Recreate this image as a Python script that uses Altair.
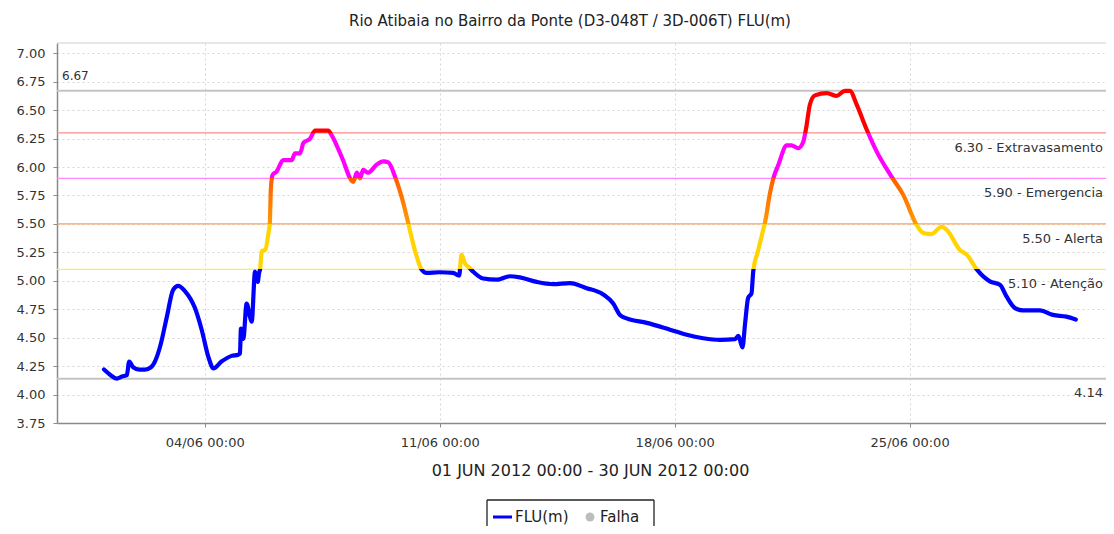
import altair as alt
import pandas as pd

# ---- data (days since 2012-06-01 00:00, level in m) ----
day_offset = [
    0.00, 0.20, 0.38, 0.55, 0.68, 0.75, 0.87, 1.05, 1.22, 1.40, 1.50, 1.67, 1.87,
    2.06, 2.21, 2.41, 2.71, 2.91, 3.11, 3.26, 3.50, 3.80, 4.00, 4.05, 4.08, 4.15,
    4.25, 4.35, 4.40, 4.50, 4.58, 4.62, 4.65, 4.70, 4.80, 4.90, 4.94, 4.97, 5.02,
    5.14, 5.34, 5.59, 5.69, 5.84, 5.94, 6.14, 6.29, 6.68, 6.78, 7.08, 7.43, 7.53,
    7.63, 7.72, 7.87, 8.12, 8.32, 8.47, 8.67, 8.92, 9.06, 9.26, 9.46, 9.61, 10.00,
    10.40, 10.58, 10.65, 10.75, 10.90, 11.00, 11.30, 11.70, 12.09, 12.39, 12.89,
    13.38, 13.88, 14.38, 14.87, 15.17, 15.37, 15.57, 16.17, 16.86, 17.36, 17.85,
    18.35, 18.80, 18.90, 19.02, 19.10, 19.19, 19.29, 19.34, 19.49, 19.64, 19.69,
    19.84, 19.94, 20.09, 20.34, 20.48, 20.68, 20.83, 20.91, 21.03, 21.18, 21.53,
    21.83, 22.07, 22.22, 22.42, 22.72, 23.02, 23.46, 23.81, 24.21, 24.41, 24.65,
    24.95, 25.10, 25.50, 25.70, 26.00, 26.39, 26.69, 26.89, 27.14, 27.38, 27.88,
    28.27, 28.67, 28.95,
]
level = [
    4.22, 4.17, 4.14, 4.16, 4.17, 4.29, 4.24, 4.22, 4.22, 4.24, 4.28, 4.42, 4.68,
    4.92, 4.955, 4.91, 4.76, 4.57, 4.33, 4.23, 4.29, 4.34, 4.35, 4.36, 4.58, 4.49,
    4.80, 4.68, 4.64, 5.08, 4.99, 5.07, 5.10, 5.26, 5.27, 5.42, 5.51, 5.80, 5.93,
    5.96, 6.06, 6.06, 6.12, 6.12, 6.21, 6.25, 6.32, 6.32, 6.28, 6.09, 5.87, 5.95,
    5.90, 5.975, 5.95, 6.02, 6.05, 6.04, 5.915, 5.68, 5.51, 5.27, 5.10, 5.07, 5.075,
    5.07, 5.045, 5.23, 5.155, 5.11, 5.08, 5.02, 5.01, 5.04, 5.03, 4.99,
    4.97, 4.98, 4.935, 4.88, 4.80, 4.70, 4.67, 4.63, 4.57, 4.525, 4.495,
    4.48, 4.487, 4.515, 4.415, 4.63, 4.85, 4.89, 5.08, 5.27, 5.45, 5.51,
    5.77, 5.90, 6.02, 6.19, 6.19, 6.165, 6.22, 6.33, 6.55, 6.63, 6.65,
    6.625, 6.67, 6.67, 6.55, 6.33, 6.135, 5.915, 5.755, 5.49, 5.42, 5.41,
    5.475, 5.45, 5.27, 5.23, 5.10, 4.995, 4.965, 4.86, 4.76, 4.74, 4.74,
    4.70, 4.685, 4.66,
]

threshold_values = [6.30, 5.90, 5.50, 5.10]
threshold_labels = ["6.30 - Extravasamento", "5.90 - Emergencia", "5.50 - Alerta", "5.10 - Atenção"]
threshold_colors = ["#ff8a8a", "#ff88ff", "#f9a060", "#ffe866"]

extreme_values = [6.67, 4.14]
extreme_labels = ["6.67", "4.14"]

y_ticks = [3.75, 4.00, 4.25, 4.50, 4.75, 5.00, 5.25, 5.50, 5.75, 6.00, 6.25, 6.50, 6.75, 7.00]
x_tick_days = [4, 11, 18, 25]

TITLE = "Rio Atibaia no Bairro da Ponte (D3-048T / 3D-006T) FLU(m)"
X_TITLE = "01 JUN 2012 00:00 - 30 JUN 2012 00:00"
FONT = "DejaVu Sans"

start = pd.Timestamp("2012-06-01 00:00")
df = pd.DataFrame({
    "t": [start + pd.Timedelta(days=d) for d in day_offset],
    "v": level,
})
thr = pd.DataFrame({"v": threshold_values, "label": threshold_labels, "color": threshold_colors})
ext = pd.DataFrame({"v": extreme_values, "label": extreme_labels})
one = pd.DataFrame({"a": [0]})

W, H = 1049, 380

# colour bands of the line as a vertical gradient over the line's own extent
vmin, vmax = min(level), max(level)
def off(t):
    return (t - vmin) / (vmax - vmin)
BLUE, YEL, OR_LO, OR_HI, MAG, RED = "#0000ff", "#ffd400", "#ff9a00", "#ff5e00", "#ff00ff", "#ff0000"
o1, o2, o3, o4 = [off(t) for t in sorted(threshold_values)]
grad = alt.LinearGradient(
    gradient="linear", x1=0, x2=0, y1=1, y2=0,
    stops=[
        alt.GradientStop(offset=0, color=BLUE), alt.GradientStop(offset=o1, color=BLUE),
        alt.GradientStop(offset=o1, color=YEL), alt.GradientStop(offset=o2, color=YEL),
        alt.GradientStop(offset=o2, color=OR_LO), alt.GradientStop(offset=o3, color=OR_HI),
        alt.GradientStop(offset=o3, color=MAG), alt.GradientStop(offset=o4, color=MAG),
        alt.GradientStop(offset=o4, color=RED), alt.GradientStop(offset=1, color=RED),
    ],
)

xscale = alt.Scale(domain=[alt.DateTime(year=2012, month=5, date=30, hours=14, minutes=24),
                           alt.DateTime(year=2012, month=6, date=30, hours=20, minutes=24)])
yscale = alt.Scale(domain=[3.75, 7.09], nice=False, zero=False)

xaxis = alt.Axis(
    values=[alt.DateTime(year=2012, month=6, date=d) for d in x_tick_days],
    format="%d/%m %H:%M", labelFontSize=13, labelPadding=9, tickSize=4,
    title=X_TITLE, titleFontSize=16, titleFontWeight="normal", titleColor="#222",
    titleX=533, titleY=47, titleBaseline="middle", titleAnchor="middle", titleAlign="center",
)
yaxis = alt.Axis(values=y_ticks, format=".2f", labelFontSize=13, labelPadding=8,
                 tickSize=4, title=None)

y_enc = alt.Y("v:Q", scale=yscale, axis=yaxis)

frame_top = alt.Chart(one).mark_rule(color="#cfcfcf", strokeWidth=1).encode(
    x=alt.value(0), x2=alt.value(W), y=alt.value(0))

thr_rules = alt.Chart(thr).mark_rule(strokeWidth=1.2).encode(
    y=y_enc, color=alt.Color("color:N", scale=None))
ext_rules = alt.Chart(ext).mark_rule(strokeWidth=2, color="#c4c4c4").encode(y=y_enc)

line = alt.Chart(df).mark_line(
    stroke=grad, strokeWidth=4.2, strokeCap="round", strokeJoin="round",
    interpolate="monotone",
).encode(
    x=alt.X("t:T", scale=xscale, axis=xaxis),
    y=y_enc,
)

thr_text = alt.Chart(thr).mark_text(
    align="right", baseline="middle", dy=15, fontSize=13, font=FONT, color="#333"
).encode(x=alt.value(W - 3), y=y_enc, text="label:N")

low_text = alt.Chart(ext[ext["v"] < 5]).mark_text(
    align="right", baseline="middle", dy=14, fontSize=13, font=FONT, color="#333"
).encode(x=alt.value(W - 3), y=y_enc, text="label:N")

high_text = alt.Chart(ext[ext["v"] > 5]).mark_text(
    align="left", baseline="middle", dy=-15, fontSize=12, font=FONT, color="#333"
).encode(x=alt.value(5), y=y_enc, text="label:N")

title = alt.Chart(one).mark_text(
    text=TITLE, fontSize=15, font=FONT, color="#222", align="center", baseline="middle"
).encode(x=alt.value(513), y=alt.value(-22))

# legend box (cut by the bottom edge, as in the picture)
LX0, LX1, LY0, LY1 = 430, 597, 457, 483
leg_top = alt.Chart(one).mark_rule(color="#222", strokeWidth=1.3).encode(
    x=alt.value(LX0), x2=alt.value(LX1), y=alt.value(LY0))
leg_left = alt.Chart(one).mark_rule(color="#222", strokeWidth=1.3).encode(
    x=alt.value(LX0), y=alt.value(LY0), y2=alt.value(LY1))
leg_right = alt.Chart(one).mark_rule(color="#222", strokeWidth=1.3).encode(
    x=alt.value(LX1), y=alt.value(LY0), y2=alt.value(LY1))
leg_line = alt.Chart(one).mark_rule(color=BLUE, strokeWidth=3).encode(
    x=alt.value(436), x2=alt.value(455), y=alt.value(474))
leg_t1 = alt.Chart(one).mark_text(
    text="FLU(m)", fontSize=15, font=FONT, color="#222", align="left", baseline="middle"
).encode(x=alt.value(458), y=alt.value(474))
leg_dot = alt.Chart(one).mark_point(
    filled=True, shape="circle", size=80, color="#bdbdbd", opacity=1
).encode(x=alt.value(533), y=alt.value(474))
leg_t2 = alt.Chart(one).mark_text(
    text="Falha", fontSize=15, font=FONT, color="#222", align="left", baseline="middle"
).encode(x=alt.value(543), y=alt.value(474))

chart = alt.layer(
    frame_top, thr_rules, ext_rules, line, thr_text, low_text, high_text, title,
    leg_top, leg_left, leg_right, leg_line, leg_t1, leg_dot, leg_t2,
).properties(
    width=W, height=H,
    autosize=alt.AutoSizeParams(type="none"),
    padding={"left": 49, "top": 35, "right": 0, "bottom": 103},
).configure_view(stroke=None).configure_axis(
    gridColor="#d6d6d6", gridDash=[2, 3], gridWidth=1,
    domainColor="#8a8a8a", domainWidth=1.5, tickColor="#8a8a8a",
    labelColor="#333", labelFont=FONT, titleFont=FONT,
)

chart.save("out.html", embed_options={"renderer": "svg", "actions": False})
